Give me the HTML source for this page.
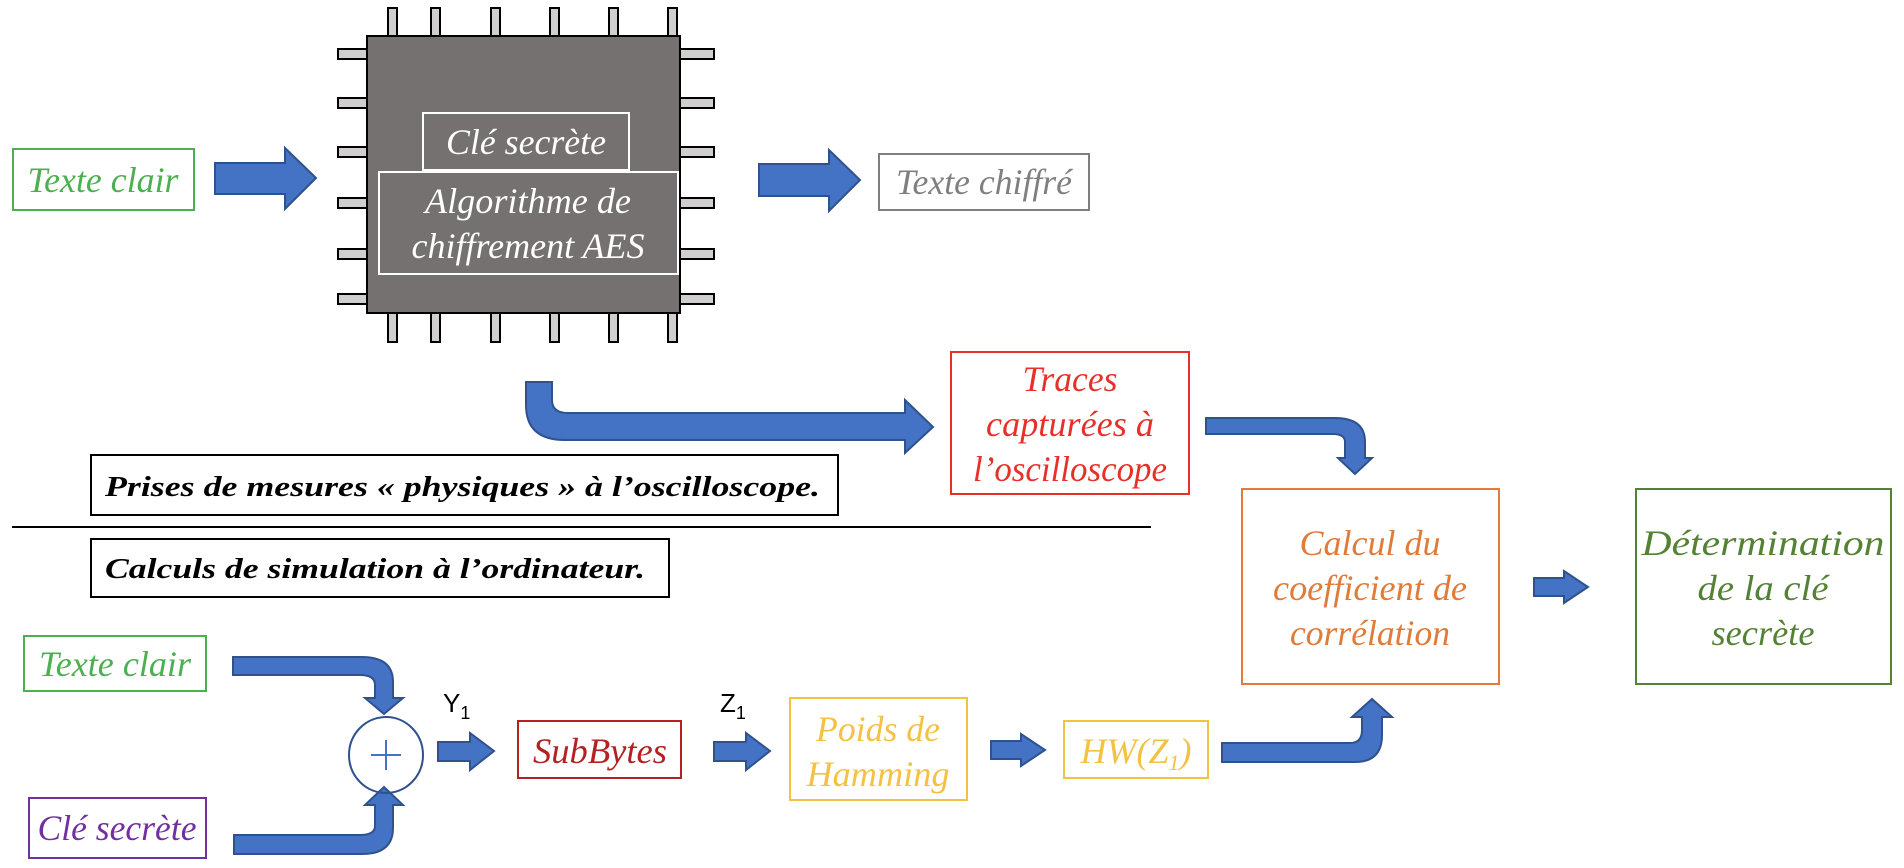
<!DOCTYPE html>
<html><head><meta charset="utf-8"><style>
html,body{margin:0;padding:0;background:#fff;}
svg{display:block;}
text{font-family:"Liberation Serif",serif;font-style:italic;}
</style></head><body>
<svg width="1904" height="868" viewBox="0 0 1904 868" xmlns="http://www.w3.org/2000/svg">
<g fill="#d0cece" stroke="#000" stroke-width="2">
<rect x="388" y="8" width="9" height="28"/><rect x="431" y="8" width="9" height="28"/><rect x="491" y="8" width="9" height="28"/><rect x="550" y="8" width="9" height="28"/><rect x="609" y="8" width="9" height="28"/><rect x="668" y="8" width="9" height="28"/>
<rect x="388" y="313" width="9" height="29"/><rect x="431" y="313" width="9" height="29"/><rect x="491" y="313" width="9" height="29"/><rect x="550" y="313" width="9" height="29"/><rect x="609" y="313" width="9" height="29"/><rect x="668" y="313" width="9" height="29"/>
<rect x="338" y="49" width="29" height="10"/><rect x="338" y="98" width="29" height="10"/><rect x="338" y="147" width="29" height="10"/><rect x="338" y="198" width="29" height="10"/><rect x="338" y="249" width="29" height="10"/><rect x="338" y="294" width="29" height="10"/>
<rect x="680" y="49" width="34" height="10"/><rect x="680" y="98" width="34" height="10"/><rect x="680" y="147" width="34" height="10"/><rect x="680" y="198" width="34" height="10"/><rect x="680" y="249" width="34" height="10"/><rect x="680" y="294" width="34" height="10"/>
</g>
<rect x="367" y="36" width="313" height="277" fill="#767171" stroke="#000" stroke-width="2"/>
<rect x="423" y="113" width="206" height="57" fill="none" stroke="#fff" stroke-width="2"/>
<rect x="379" y="172" width="299" height="102" fill="none" stroke="#fff" stroke-width="2"/>
<g fill="#fff" font-size="36" text-anchor="middle" lengthAdjust="spacingAndGlyphs">
<text x="526" y="154" textLength="160" lengthAdjust="spacingAndGlyphs">Clé secrète</text>
<text x="528" y="213" textLength="206" lengthAdjust="spacingAndGlyphs">Algorithme de</text>
<text x="528" y="258" textLength="233" lengthAdjust="spacingAndGlyphs">chiffrement AES</text>
</g>
<g fill="#4472c4" stroke="#2f528f" stroke-width="2">
<path d="M215,163 L285,163 L285,148 L316,178 L285,209 L285,194 L215,194 Z"/>
<path d="M759,164 L829,164 L829,150 L860,180 L829,211 L829,196 L759,196 Z"/>
<path d="M1534,578 L1564,578 L1564,571 L1588,587 L1564,603 L1564,596 L1534,596 Z"/>
<path d="M438,742 L470,742 L470,733 L494,751 L470,770 L470,761 L438,761 Z"/>
<path d="M714,742 L746,742 L746,733 L770,751 L746,770 L746,761 L714,761 Z"/>
<path d="M991,741 L1021,741 L1021,734 L1045,750 L1021,766 L1021,759 L991,759 Z"/>
<path d="M526,382 L552,382 L552,400 Q552,413 568,413 L905,413 L905,400 L933,427 L905,453 L905,440 L565,440 Q526,440 526,405 Z"/>
<path d="M1206,418 L1335,418 Q1365,418 1365,442 L1365,458 L1372,458 L1355,474 L1338,458 L1345,458 L1345,442 Q1345,434 1333,434 L1206,434 Z"/>
<path d="M233,657 L362,657 Q393,657 393,682 L393,698 L403,698 L384,714 L365,698 L375,698 L375,685 Q375,675 360,675 L233,675 Z"/>
<path d="M234,854 L362,854 Q393,854 393,828 L393,805 L403,805 L384,787 L365,805 L375,805 L375,826 Q375,835 360,835 L234,835 Z"/>
<path d="M1222,743 L1350,743 Q1362,743 1362,730 L1362,717 L1352,717 L1372,699 L1392,717 L1382,717 L1382,735 Q1382,762 1355,762 L1222,762 Z"/>
</g>
<g fill="none" stroke-width="2">
<rect x="13" y="149" width="181" height="61" stroke="#4caf50"/>
<rect x="879" y="154" width="210" height="56" stroke="#7f7f7f"/>
<rect x="951" y="352" width="238" height="142" stroke="#e8302a"/>
<rect x="91" y="455" width="747" height="60" stroke="#000"/>
<rect x="91" y="539" width="578" height="58" stroke="#000"/>
<rect x="1242" y="489" width="257" height="195" stroke="#e07b39"/>
<rect x="1636" y="489" width="255" height="195" stroke="#548235"/>
<rect x="24" y="636" width="182" height="55" stroke="#4caf50"/>
<rect x="29" y="798" width="177" height="60" stroke="#7030a0"/>
<rect x="518" y="721" width="163" height="57" stroke="#b22222"/>
<rect x="790" y="698" width="177" height="102" stroke="#f4c242"/>
<rect x="1064" y="721" width="144" height="57" stroke="#f4c242"/>
<ellipse cx="386" cy="755" rx="37" ry="38" stroke="#2f528f"/>
</g>
<line x1="12" y1="527" x2="1151" y2="527" stroke="#000" stroke-width="2"/>
<g stroke="#4472c4" stroke-width="2"><line x1="386" y1="740" x2="386" y2="770"/><line x1="371" y1="755" x2="401" y2="755"/></g>
<g font-size="36" text-anchor="middle">
<text x="103" y="192" fill="#4caf50" textLength="151" lengthAdjust="spacingAndGlyphs">Texte clair</text>
<text x="984" y="194" fill="#7f7f7f" textLength="176" lengthAdjust="spacingAndGlyphs">Texte chiffré</text>
<text x="1070" y="391" fill="#e8302a" textLength="95" lengthAdjust="spacingAndGlyphs">Traces</text>
<text x="1070" y="436" fill="#e8302a" textLength="168" lengthAdjust="spacingAndGlyphs">capturées à</text>
<text x="1070" y="481" fill="#e8302a" textLength="194" lengthAdjust="spacingAndGlyphs">l’oscilloscope</text>
<text x="1370" y="555" fill="#e07b39" textLength="141" lengthAdjust="spacingAndGlyphs">Calcul du</text>
<text x="1370" y="600" fill="#e07b39" textLength="194" lengthAdjust="spacingAndGlyphs">coefficient de</text>
<text x="1370" y="645" fill="#e07b39" textLength="160" lengthAdjust="spacingAndGlyphs">corrélation</text>
<text x="1763" y="555" fill="#548235" textLength="243" lengthAdjust="spacingAndGlyphs">Détermination</text>
<text x="1763" y="600" fill="#548235" textLength="131" lengthAdjust="spacingAndGlyphs">de la clé</text>
<text x="1763" y="645" fill="#548235" textLength="103" lengthAdjust="spacingAndGlyphs">secrète</text>
<text x="115" y="676" fill="#4caf50" textLength="152" lengthAdjust="spacingAndGlyphs">Texte clair</text>
<text x="117" y="840" fill="#7030a0" textLength="159" lengthAdjust="spacingAndGlyphs">Clé secrète</text>
<text x="600" y="763" fill="#b22222" textLength="134" lengthAdjust="spacingAndGlyphs">SubBytes</text>
<text x="878" y="741" fill="#f4c242" textLength="124" lengthAdjust="spacingAndGlyphs">Poids de</text>
<text x="878" y="786" fill="#f4c242" textLength="143" lengthAdjust="spacingAndGlyphs">Hamming</text>
<text x="1136" y="763" fill="#f4c242">HW(Z<tspan font-size="22" dy="7">1</tspan><tspan dy="-7">)</tspan></text>
</g>
<g font-size="29" font-weight="bold" fill="#000">
<text x="105" y="496" textLength="715" lengthAdjust="spacingAndGlyphs">Prises de mesures « physiques » à l’oscilloscope.</text>
<text x="105" y="578" textLength="540" lengthAdjust="spacingAndGlyphs">Calculs de simulation à l’ordinateur.</text>
</g>
<g font-size="26" fill="#000">
<text x="443" y="712" style="font-style:normal;font-family:'Liberation Sans',sans-serif">Y<tspan font-size="18" dy="7">1</tspan></text>
<text x="720" y="712" style="font-style:normal;font-family:'Liberation Sans',sans-serif">Z<tspan font-size="18" dy="7">1</tspan></text>
</g>
</svg>
</body></html>
